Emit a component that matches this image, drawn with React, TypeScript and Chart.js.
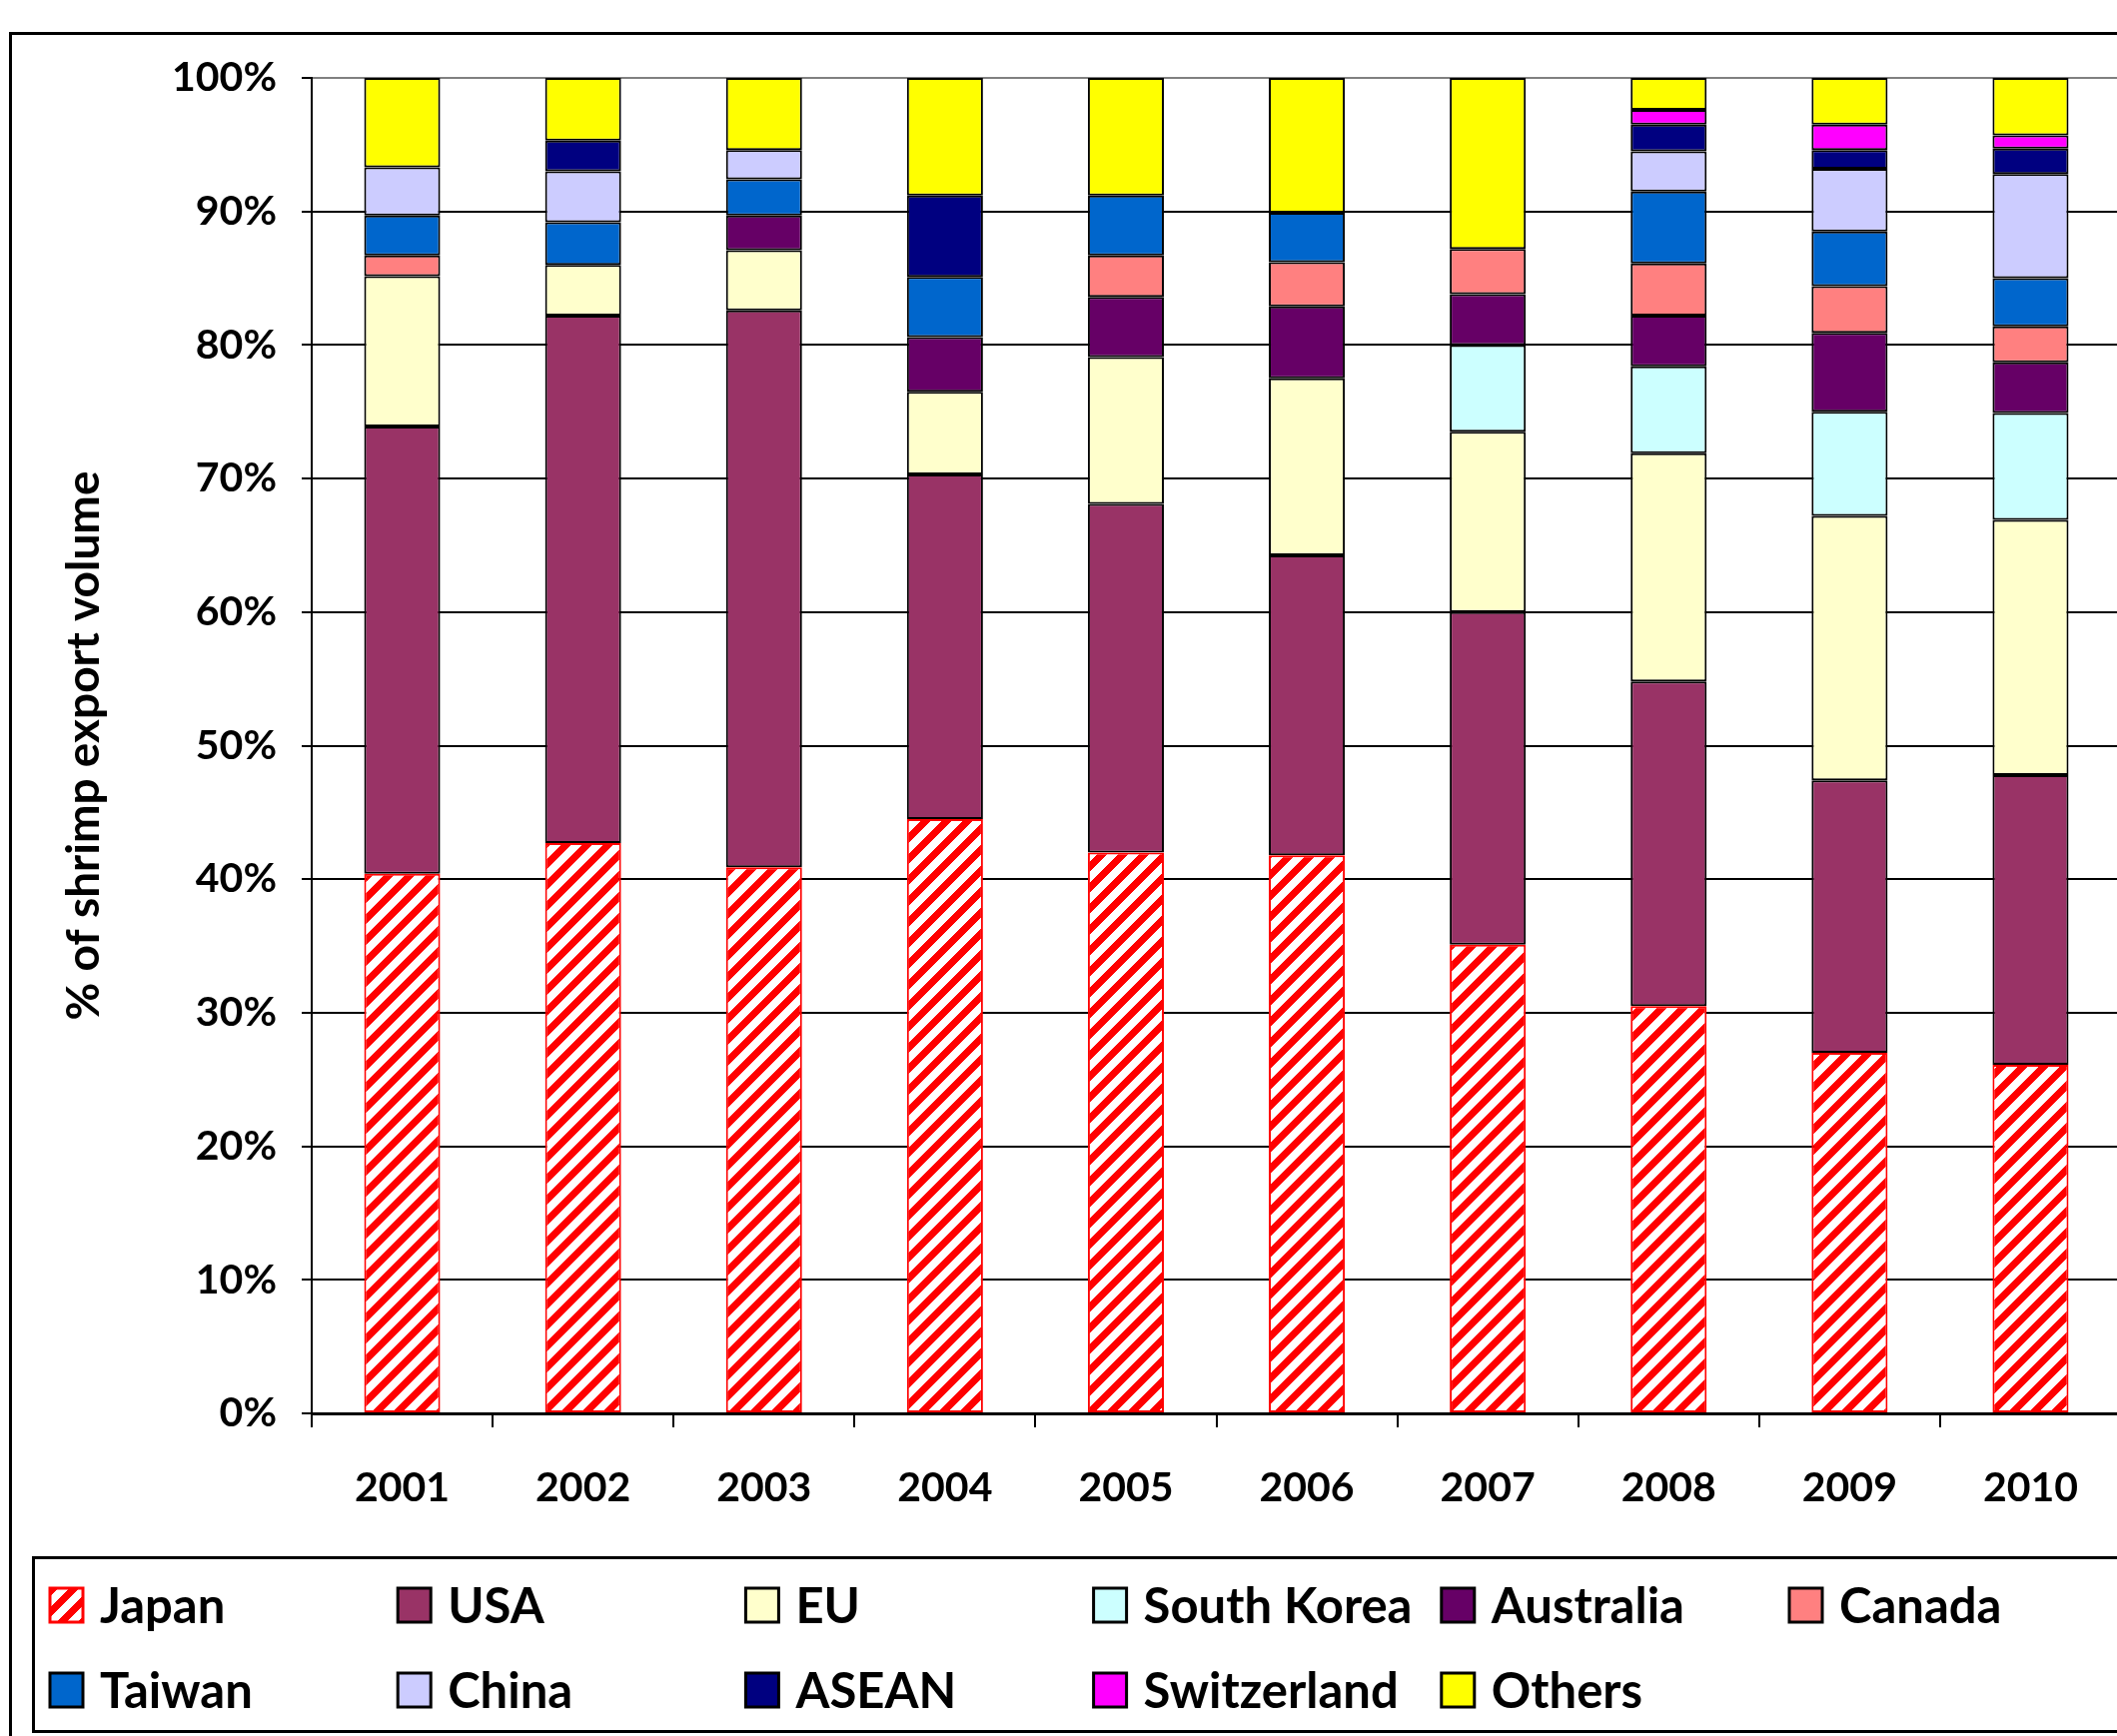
import { useEffect, useRef } from 'react';
import { Chart, registerables } from 'chart.js';

Chart.register(...registerables);

const years = ['2001', '2002', '2003', '2004', '2005', '2006', '2007', '2008', '2009', '2010'];

const japan = [40.4, 42.7, 40.9, 44.5, 42.0, 41.8, 35.1, 30.5, 27.0, 26.1];
const usa = [33.5, 39.5, 41.7, 25.8, 26.1, 22.45, 24.9, 24.3, 20.4, 21.7];
const eu = [11.25, 3.8, 4.5, 6.2, 11.0, 13.25, 13.5, 17.1, 19.8, 19.1];
const southKorea = [null, null, null, null, null, null, 6.5, 6.5, 7.8, 8.0];
const australia = [null, null, 2.6, 4.1, 4.5, 5.4, 3.8, 3.8, 5.9, 3.8];
const canada = [1.55, null, null, null, 3.1, 3.3, 3.4, 3.9, 3.5, 2.7];
const taiwan = [3.0, 3.2, 2.7, 4.5, 4.5, 3.7, null, 5.4, 4.1, 3.6];
const china = [3.6, 3.8, 2.2, null, null, null, null, 3.0, 4.7, 7.8];
const asean = [null, 2.3, null, 6.1, null, null, null, 2.0, 1.4, 1.9];
const switzerland = [null, null, null, null, null, null, null, 1.1, 1.9, 1.0];
const others = [6.7, 4.7, 5.4, 8.8, 8.8, 10.1, 12.8, 2.4, 3.5, 4.3];

const seriesNames = ['Japan', 'USA', 'EU', 'South Korea', 'Australia', 'Canada', 'Taiwan', 'China', 'ASEAN', 'Switzerland', 'Others'];
const seriesData = [japan, usa, eu, southKorea, australia, canada, taiwan, china, asean, switzerland, others];
const seriesColors = ['pattern', '#993366', '#FFFFCC', '#CCFFFF', '#660066', '#FF8080', '#0066CC', '#CCCCFF', '#000080', '#FF00FF', '#FFFF00'];

const yAxisTitle = '% of shrimp export volume';

const CANVAS_W = 2160;
const CANVAS_H = 1738;
const FONT = 'Lato, "Open Sans", sans-serif';

export default function App() {
  const ref = useRef<HTMLCanvasElement>(null);

  useEffect(() => {
    document.body.style.margin = '0';
    document.body.style.overflow = 'hidden';
    document.documentElement.style.overflow = 'hidden';
    let chart: Chart | null = null;
    let cancelled = false;

    const build = () => {
      if (cancelled || !ref.current) return;
      const canvas = ref.current;
      const tile = document.createElement('canvas');
      const T = 21;
      tile.width = T;
      tile.height = T;
      const tctx = tile.getContext('2d')!;
      tctx.fillStyle = '#FFFFFF';
      tctx.fillRect(0, 0, T, T);
      tctx.fillStyle = '#FF0000';
      for (let x = 0; x < T; x++) {
        for (let y = 0; y < T; y++) {
          if ((x + y) % T < 10) tctx.fillRect(x, y, 1, 1);
        }
      }
      const pattern = canvas.getContext('2d')!.createPattern(tile, 'repeat')!;

      const datasets = seriesNames.map((name, i) => ({
        label: name,
        data: seriesData[i],
        backgroundColor: seriesColors[i] === 'pattern' ? pattern : seriesColors[i],
        borderColor: i === 0 ? '#FF0000' : '#000000',
        borderWidth: 2,
        borderSkipped: false as const,
        categoryPercentage: 1,
        barPercentage: 0.42,
      }));

      const decor = {
        id: 'decor',
        beforeDraw(c: any) {
          const ctx = c.ctx;
          ctx.save();
          ctx.fillStyle = '#FFFFFF';
          ctx.fillRect(0, 0, c.width, c.height);
          ctx.strokeStyle = '#000000';
          ctx.lineWidth = 3;
          ctx.strokeRect(10.5, 33.5, c.width + 20, c.height + 20);
          ctx.strokeRect(33.5, 1559.5, c.width + 20, 174);
          ctx.restore();
        },
        afterDraw(c: any) {
          const ctx = c.ctx;
          const area = c.chartArea;
          ctx.save();
          // y title
          ctx.translate(84, (area.top + area.bottom) / 2);
          ctx.rotate(-Math.PI / 2);
          ctx.fillStyle = '#000000';
          ctx.font = `bold 46px ${FONT}`;
          ctx.textAlign = 'center';
          ctx.textBaseline = 'middle';
          ctx.fillText(yAxisTitle, 0, 0);
          ctx.restore();

          // legend
          ctx.save();
          ctx.font = `bold 49px ${FONT}`;
          ctx.textBaseline = 'middle';
          ctx.textAlign = 'left';
          seriesNames.forEach((name, i) => {
            const col = i % 6;
            const row = Math.floor(i / 6);
            const mx = 50 + col * 348.2;
            const cy = row === 0 ? 1607 : 1692;
            ctx.fillStyle = seriesColors[i] === 'pattern' ? pattern : seriesColors[i];
            ctx.fillRect(mx, cy - 17, 33, 34);
            ctx.strokeStyle = i === 0 ? '#FF0000' : '#000000';
            ctx.lineWidth = 3;
            ctx.strokeRect(mx, cy - 17, 33, 34);
            ctx.fillStyle = '#000000';
            ctx.fillText(name, mx + 50, cy + 2);
          });
          ctx.restore();
        },
      };

      chart = new Chart(canvas, {
        type: 'bar',
        data: { labels: years, datasets: datasets as any },
        plugins: [decor],
        options: {
          animation: false,
          responsive: false,
          devicePixelRatio: 1,
          layout: { padding: { top: 78, left: 0, right: CANVAS_W - 2123, bottom: 0 } },
          plugins: {
            legend: { display: false },
            tooltip: { enabled: false },
            title: { display: false },
          },
          scales: {
            x: {
              stacked: true,
              offset: true,
              afterFit: (s: any) => { s.height = CANVAS_H - 1415; },
              grid: {
                offset: true,
                drawOnChartArea: false,
                drawTicks: true,
                tickLength: 14,
                color: '#000000',
                lineWidth: 2,
              },
              border: { display: true, color: '#000000', width: 3 },
              ticks: {
                color: '#000000',
                padding: 36,
                font: { family: FONT, size: 41, weight: 'bold' },
                maxRotation: 0,
              },
            },
            y: {
              stacked: true,
              min: 0,
              max: 100,
              afterFit: (s: any) => { s.width = 312; },
              grid: {
                color: (ctx: any) => (ctx.tick && ctx.tick.value === 100 ? '#808080' : '#000000'),
                tickColor: '#000000',
                lineWidth: 2,
                drawTicks: true,
                tickLength: 10,
              },
              border: { display: true, color: '#000000', width: 2 },
              ticks: {
                stepSize: 10,
                color: '#000000',
                padding: 25,
                font: { family: FONT, size: 41, weight: 'bold' },
                callback: (v: any) => `${v}%`,
              },
            },
          },
        },
      });
    };

    const fontsApi = (document as any).fonts;
    if (fontsApi && fontsApi.load) {
      Promise.all([fontsApi.load(`bold 41px Lato`), fontsApi.load(`bold 49px Lato`)])
        .catch(() => null)
        .then(() => build());
    } else {
      build();
    }

    return () => {
      cancelled = true;
      if (chart) chart.destroy();
    };
  }, []);

  return (
    <div style={{ position: 'relative', width: 2119, height: 1738, overflow: 'hidden', background: '#fff' }}>
      <canvas ref={ref} width={CANVAS_W} height={CANVAS_H} style={{ display: 'block', width: CANVAS_W, height: CANVAS_H }} />
    </div>
  );
}
